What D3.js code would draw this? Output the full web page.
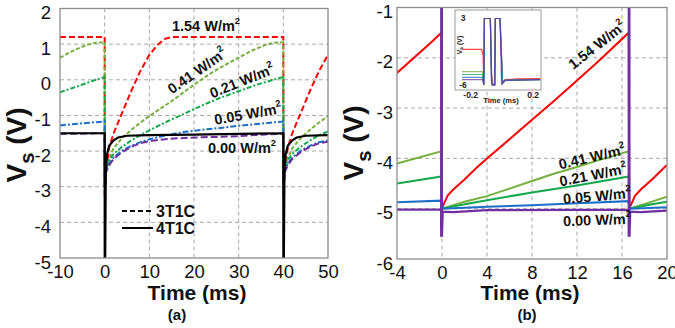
<!DOCTYPE html>
<html>
<head>
<meta charset="utf-8">
<script src="https://cdn.jsdelivr.net/npm/d3@7"></script>
<style>
  body { margin: 0; background: #fff; }
  svg { display: block; font-family: "Liberation Sans", Arial, sans-serif; }
</style>
</head>
<body>
<div id="chart"></div>
<script>
// ---- panel (a): 3T1C (dashed) vs 4T1C (solid), time in ms, Vs in V ----
const ticksAx = [-10, 0, 10, 20, 30, 40, 50];
const ticksAy = [-5, -4, -3, -2, -1, 0, 1, 2];
const irradiance = ["1.54", "0.41", "0.21", "0.05", "0.00"];

const a154 = [[-10,1.2],[0,1.2],[0.02,-3.3],[0.3,-2.6],[1,-1.9],[2,-1.5],[4,-0.9],[6,-0.3],[8,0.25],[10,0.7],[12,1.0],[13.5,1.15],[15,1.2],[40,1.2],
  [40.02,-3.3],[40.3,-2.6],[41,-1.9],[42,-1.5],[44,-0.9],[46,-0.3],[48,0.25],[50,0.7]];
const a041 = [[-10,0.62],[-7,0.82],[-4,0.98],[-2,1.04],[0,1.05],[0.02,-3.0],[0.3,-2.5],[1,-2.2],[2,-1.92],[4,-1.62],[6,-1.4],[8,-1.2],[10,-1.02],[12,-0.85],
  [15,-0.6],[18,-0.32],[21,-0.05],[24,0.2],[27,0.42],[30,0.62],[33,0.82],[36,0.98],[38,1.04],[40,1.05],
  [40.02,-3.0],[40.3,-2.5],[41,-2.2],[42,-1.92],[44,-1.62],[46,-1.4],[48,-1.2],[50,-1.02]];
const a021 = [[-10,-0.35],[-6,-0.18],[-2,0.0],[0,0.08],[0.02,-3.0],[0.3,-2.5],[1,-2.25],[2,-2.08],[4,-1.87],[6,-1.7],[8,-1.55],[10,-1.42],[14,-1.17],
  [18,-0.94],[22,-0.71],[26,-0.5],[30,-0.32],[34,-0.14],[38,0.01],[40,0.08],
  [40.02,-3.0],[40.3,-2.5],[41,-2.25],[42,-2.08],[44,-1.87],[46,-1.7],[48,-1.55],[50,-1.45]];
const a005 = [[-10,-1.28],[-5,-1.22],[0,-1.17],[0.02,-3.0],[0.3,-2.55],[1,-2.35],[2,-2.18],[4,-1.98],[6,-1.85],[8,-1.75],[10,-1.67],[14,-1.55],
  [18,-1.46],[22,-1.4],[26,-1.35],[30,-1.29],[35,-1.23],[40,-1.17],
  [40.02,-3.0],[40.3,-2.55],[41,-2.35],[42,-2.18],[44,-1.98],[46,-1.85],[48,-1.75],[50,-1.7]];
const a000 = [[-10,-1.52],[0,-1.5],[0.02,-3.0],[0.3,-2.6],[1,-2.4],[2,-2.22],[4,-2.02],[6,-1.88],[8,-1.78],[10,-1.72],[14,-1.66],[18,-1.63],
  [22,-1.61],[26,-1.6],[30,-1.58],[35,-1.54],[40,-1.51],
  [40.02,-3.0],[40.3,-2.6],[41,-2.4],[42,-2.22],[44,-2.02],[46,-1.88],[48,-1.78],[50,-1.74]];
const a4t1c = [[-10,-1.5],[0,-1.5],[0.01,-5],[0.12,-5],[0.25,-2.6],[0.5,-2.1],[1,-1.85],[2,-1.7],[3,-1.62],[5,-1.57],[10,-1.55],[20,-1.54],[30,-1.52],[40,-1.5],
  [40.01,-5],[40.12,-5],[40.25,-2.6],[40.5,-2.1],[41,-1.85],[42,-1.7],[43,-1.62],[45,-1.57],[50,-1.55]];

// ---- panel (b): 4T1C, one 16.67 ms frame ----
const ticksBx = [-4, 0, 4, 8, 12, 16, 20];
const ticksBy = [-6, -5, -4, -3, -2, -1];

const b154 = [[-4,-2.3],[-1,-1.7],[-0.05,-1.5],[-0.02,-5.0],[0.5,-4.74],[1,-4.62],[2,-4.42],[3,-4.2],[4,-4.0],[6,-3.62],[8,-3.23],[10,-2.85],
  [12,-2.45],[14,-2.05],[16.6,-1.5],[16.64,-5.0],[17.17,-4.74],[17.67,-4.62],[18.67,-4.42],[19.67,-4.2],[20,-4.13]];
const b041 = [[-4,-4.1],[-0.05,-3.86],[-0.02,-5.0],[1,-4.93],[2,-4.86],[4,-4.75],[6,-4.6],[8,-4.45],[10,-4.3],[12,-4.17],[14,-4.03],[16.6,-3.86],
  [16.64,-5.0],[17.67,-4.93],[18.67,-4.86],[20,-4.76]];
const b021 = [[-4,-4.5],[-0.05,-4.36],[-0.02,-5.0],[2,-4.91],[4,-4.83],[8,-4.68],[12,-4.54],[16.6,-4.36],[16.64,-5.0],[18.67,-4.91],[20,-4.86]];
const b005 = [[-4,-4.87],[-0.05,-4.84],[-0.02,-5.0],[4,-4.96],[8,-4.93],[12,-4.89],[16.6,-4.85],[16.64,-5.0],[20,-4.97]];
const b000 = [[-4,-5.02],[-0.08,-5.02],[-0.07,-5.56],[-0.06,3.5],[-0.02,3.5],[-0.01,-5.56],[0.06,-5.06],[1,-5.07],[4,-5.03],[16.5,-5.02],
  [16.59,-5.02],[16.6,-5.56],[16.61,3.5],[16.65,3.5],[16.66,-5.56],[16.73,-5.06],[17.67,-5.07],[20,-5.04]];

// ---- inset of (b): the addressing pulses, time in ms ----
const ticksInX = [-0.2, 0.2];
const ticksInY = [-6, 3];
const in154 = [[-0.255,-1.2],[-0.13,-1.2],[-0.12,-2.0],[-0.116,-6.0],[-0.112,3.0],[-0.074,3.0],[-0.066,-4.5],[-0.058,-5.9],[-0.046,-6.0],
  [-0.042,3.0],[-0.012,3.0],[0.004,-5.6],[0.02,-5.3],[0.1,-5.2],[0.245,-5.15]];
const in041 = [[-0.255,-4.2],[-0.124,-4.2],[-0.116,-6.0],[-0.112,3.0],[-0.074,3.0],[-0.066,-5.5],[-0.058,-6.0],[-0.046,-6.0],
  [-0.042,3.0],[-0.012,3.0],[0.004,-5.8],[0.02,-5.4],[0.245,-5.25]];
const in021 = [[-0.255,-4.6],[-0.124,-4.6],[-0.116,-6.0],[-0.112,3.0],[-0.074,3.0],[-0.066,-5.6],[-0.058,-6.0],[-0.046,-6.0],
  [-0.042,3.0],[-0.012,3.0],[0.004,-5.8],[0.02,-5.4],[0.245,-5.28]];
const in005 = [[-0.255,-5.0],[-0.124,-5.0],[-0.116,-6.0],[-0.112,3.0],[-0.074,3.0],[-0.066,-5.7],[-0.058,-6.0],[-0.046,-6.0],
  [-0.042,3.0],[-0.012,3.0],[0.004,-5.8],[0.02,-5.4],[0.245,-5.3]];
const in000 = [[-0.255,-5.3],[-0.122,-5.3],[-0.116,-6.0],[-0.112,3.0],[-0.074,3.0],[-0.066,-6.0],[-0.046,-6.0],[-0.042,3.0],
  [-0.012,3.0],[-0.002,-6.0],[0.006,-5.6],[0.03,-5.35],[0.245,-5.3]];

const colors = ["#ff0000", "#74b03c", "#13a84a", "#1b6fc8", "#7030a0"];

const width = 675, height = 328;
const svg = d3.select("#chart").append("svg")
    .attr("width", width)
    .attr("height", height);

const fmt = d => String(d);

function frame(p) {
    const x = d3.scaleLinear().domain(p.xDomain).range([p.left, p.right]);
    const y = d3.scaleLinear().domain(p.yDomain).range([p.bottom, p.top]);
    const g = svg.append("g");

    svg.append("clipPath").attr("id", "clip-" + p.id)
      .append("rect")
        .attr("x", p.left).attr("y", p.top)
        .attr("width", p.right - p.left).attr("height", p.bottom - p.top);

    // dashed grid
    g.append("g").selectAll("line")
      .data(p.xTicks.slice(1, -1))
      .enter().append("line")
        .attr("x1", d => x(d)).attr("x2", d => x(d))
        .attr("y1", p.top).attr("y2", p.bottom)
        .attr("stroke", "#a8a8a8").attr("stroke-width", 1).attr("stroke-dasharray", "4,3");
    g.append("g").selectAll("line")
      .data(p.yTicks.slice(1, -1))
      .enter().append("line")
        .attr("y1", d => y(d)).attr("y2", d => y(d))
        .attr("x1", p.left).attr("x2", p.right)
        .attr("stroke", "#a8a8a8").attr("stroke-width", 1).attr("stroke-dasharray", "4,3");

    const xAxis = g.append("g")
        .attr("transform", `translate(0,${p.bottom})`)
        .call(d3.axisBottom(x).tickValues(p.xTicks).tickSize(0).tickPadding(7).tickFormat(fmt));
    xAxis.select(".domain").remove();
    xAxis.selectAll("text").attr("font-size", 18.5).attr("fill", "#111").attr("font-family", null);

    const yAxis = g.append("g")
        .attr("transform", `translate(${p.left},0)`)
        .call(d3.axisLeft(y).tickValues(p.yTicks).tickSize(0).tickPadding(p.yPad).tickFormat(fmt));
    yAxis.select(".domain").remove();
    yAxis.selectAll("text").attr("font-size", 18.5).attr("dy", "0.55em").attr("fill", "#111").attr("font-family", null);

    return {x, y, g};
}

function box(g, p) {
    g.append("rect")
        .attr("x", p.left).attr("y", p.top)
        .attr("width", p.right - p.left).attr("height", p.bottom - p.top)
        .attr("fill", "none").attr("stroke", "#8c8c8c").attr("stroke-width", 1.3);
}

function titles(g, p, cx, tag) {
    g.append("text")
        .attr("x", cx).attr("y", 300)
        .attr("text-anchor", "middle")
        .attr("font-size", 21).attr("font-weight", "bold").attr("fill", "#111")
        .text("Time (ms)");
    g.append("text")
        .attr("x", tag.x).attr("y", 320)
        .attr("text-anchor", "middle")
        .attr("font-size", 15).attr("font-weight", "bold").attr("fill", "#111")
        .text(tag.text);
    const vt = g.append("text")
        .attr("transform", `translate(${p.vx},${p.vy}) rotate(-90)`)
        .attr("text-anchor", "middle").attr("dominant-baseline", "central")
        .attr("font-size", 28).attr("font-weight", "bold").attr("fill", "#111");
    vt.append("tspan").text("V");
    vt.append("tspan").attr("baseline-shift", "sub").attr("font-size", "72%").text("s");
    vt.append("tspan").text(" (V)");
}

function irrLabel(g, i, cx, cy, angle, size) {
    const t = g.append("text")
        .attr("transform", `translate(${cx},${cy}) rotate(${angle})`)
        .attr("text-anchor", "middle").attr("dominant-baseline", "central")
        .attr("font-size", size).attr("font-weight", "bold").attr("fill", "#111");
    t.append("tspan").text(irradiance[i] + " W/m");
    t.append("tspan").attr("baseline-shift", "super").attr("font-size", "65%").text("2");
}

// ================= panel (a) =================
const pa = {id: "a", left: 60, right: 328, top: 8.5, bottom: 258, xDomain: [-10, 50], yDomain: [-5, 2],
            xTicks: ticksAx, yTicks: ticksAy, yPad: 9, vx: 16, vy: 145};
const A = frame(pa);
const lineA = d3.line().x(d => A.x(d[0])).y(d => A.y(d[1]));
const seriesA = [
    {data: a154, color: colors[0], dash: "6,3"},
    {data: a041, color: colors[1], dash: "4,2"},
    {data: a021, color: colors[2], dash: "5,2,2,2"},
    {data: a005, color: colors[3], dash: "6,2,2,2"},
    {data: a000, color: colors[4], dash: "7,3"}
];
const la = A.g.append("g").attr("clip-path", "url(#clip-a)");
la.selectAll("path.s")
  .data(seriesA)
  .enter().append("path")
    .attr("class", "s")
    .attr("d", d => lineA(d.data))
    .attr("fill", "none")
    .attr("stroke", d => d.color)
    .attr("stroke-width", 2)
    .attr("stroke-dasharray", d => d.dash);
la.append("path")
    .attr("d", lineA(a4t1c))
    .attr("fill", "none").attr("stroke", "#000").attr("stroke-width", 2.2);
box(A.g, pa);

irrLabel(A.g, 0, 206, 26, 0, 14.5);
irrLabel(A.g, 1, 197, 71, -35, 14.5);
irrLabel(A.g, 2, 242, 81, -22, 14.5);
irrLabel(A.g, 3, 248, 114, -10, 14.5);
irrLabel(A.g, 4, 242, 148, 0, 14.5);

// legend
const legA = A.g.append("g");
[["3T1C", "5,3", 211], ["4T1C", null, 228]].forEach(([name, dash, ly]) => {
    legA.append("line")
        .attr("x1", 122).attr("x2", 153).attr("y1", ly).attr("y2", ly)
        .attr("stroke", "#000").attr("stroke-width", 2)
        .attr("stroke-dasharray", dash);
    legA.append("text")
        .attr("x", 156).attr("y", ly)
        .attr("dominant-baseline", "central")
        .attr("font-size", 16).attr("font-weight", "bold").attr("fill", "#111")
        .text(name);
});
titles(A.g, pa, 197, {x: 177, text: "(a)"});

// ================= panel (b) =================
const pb = {id: "b", left: 397, right: 667, top: 7.5, bottom: 259, xDomain: [-4, 20], yDomain: [-6, -1],
            xTicks: ticksBx, yTicks: ticksBy, yPad: 4, vx: 353, vy: 143};
const B = frame(pb);
const lineB = d3.line().x(d => B.x(d[0])).y(d => B.y(d[1]));
const seriesB = [
    {data: b154, color: colors[0], w: 2},
    {data: b041, color: colors[1], w: 2},
    {data: b021, color: colors[2], w: 2},
    {data: b005, color: colors[3], w: 2},
    {data: b000, color: colors[4], w: 2.3}
];
B.g.append("g").attr("clip-path", "url(#clip-b)")
  .selectAll("path")
  .data(seriesB)
  .enter().append("path")
    .attr("d", d => lineB(d.data))
    .attr("fill", "none")
    .attr("stroke", d => d.color)
    .attr("stroke-width", d => d.w);
box(B.g, pb);

irrLabel(B.g, 0, 597, 45, -38, 14.5);
irrLabel(B.g, 1, 592, 157, -13, 14.5);
irrLabel(B.g, 2, 593, 175, -11, 14.5);
irrLabel(B.g, 3, 597, 196, -5, 14.5);
irrLabel(B.g, 4, 597, 220, -2, 14.5);
titles(B.g, pb, 530, {x: 527, text: "(b)"});

// ---- inset ----
const ins = {left: 455, right: 541, top: 10, bottom: 90};
const ix = d3.scaleLinear().domain([-0.3, 0.25]).range([ins.left, ins.right]);
const iy = d3.scaleLinear().domain([-6.7, 4.15]).range([ins.bottom, ins.top]);
const gi = svg.append("g");
gi.append("rect")
    .attr("x", ins.left).attr("y", ins.top)
    .attr("width", ins.right - ins.left).attr("height", ins.bottom - ins.top)
    .attr("fill", "#fff");
svg.append("clipPath").attr("id", "clip-in")
  .append("rect")
    .attr("x", ins.left).attr("y", ins.top)
    .attr("width", ins.right - ins.left).attr("height", ins.bottom - ins.top);
const lineIn = d3.line().x(d => ix(d[0])).y(d => iy(d[1]));
gi.append("g").attr("clip-path", "url(#clip-in)")
  .selectAll("path")
  .data([in154, in041, in021, in005, in000])
  .enter().append("path")
    .attr("d", d => lineIn(d))
    .attr("fill", "none")
    .attr("stroke", (d, i) => colors[i])
    .attr("stroke-opacity", 0.75)
    .attr("stroke-width", 1.2);
gi.append("rect")
    .attr("x", ins.left).attr("y", ins.top)
    .attr("width", ins.right - ins.left).attr("height", ins.bottom - ins.top)
    .attr("fill", "none").attr("stroke", "#9a9a9a").attr("stroke-width", 1);
gi.selectAll("text.iy")
  .data(ticksInY)
  .enter().append("text")
    .attr("class", "iy")
    .attr("x", 463).attr("y", d => iy(d))
    .attr("text-anchor", "middle").attr("dominant-baseline", "central")
    .attr("font-size", 8.5).attr("font-weight", "bold").attr("fill", "#222")
    .text(fmt);
gi.selectAll("text.ix")
  .data(ticksInX)
  .enter().append("text")
    .attr("class", "ix")
    .attr("x", d => ix(d)).attr("y", 95)
    .attr("text-anchor", "middle").attr("dominant-baseline", "central")
    .attr("font-size", 8.5).attr("font-weight", "bold").attr("fill", "#222")
    .text(fmt);
gi.append("text")
    .attr("x", 501).attr("y", 100)
    .attr("text-anchor", "middle").attr("dominant-baseline", "central")
    .attr("font-size", 7.5).attr("font-weight", "bold").attr("fill", "#222")
    .text("Time (ms)");
const ivt = gi.append("text")
    .attr("transform", "translate(459,45) rotate(-90)")
    .attr("text-anchor", "middle").attr("dominant-baseline", "central")
    .attr("font-size", 7).attr("font-weight", "bold").attr("fill", "#222");
ivt.append("tspan").text("V");
ivt.append("tspan").attr("baseline-shift", "sub").attr("font-size", "70%").text("s");
ivt.append("tspan").text(" (V)");
</script>
</body>
</html>
